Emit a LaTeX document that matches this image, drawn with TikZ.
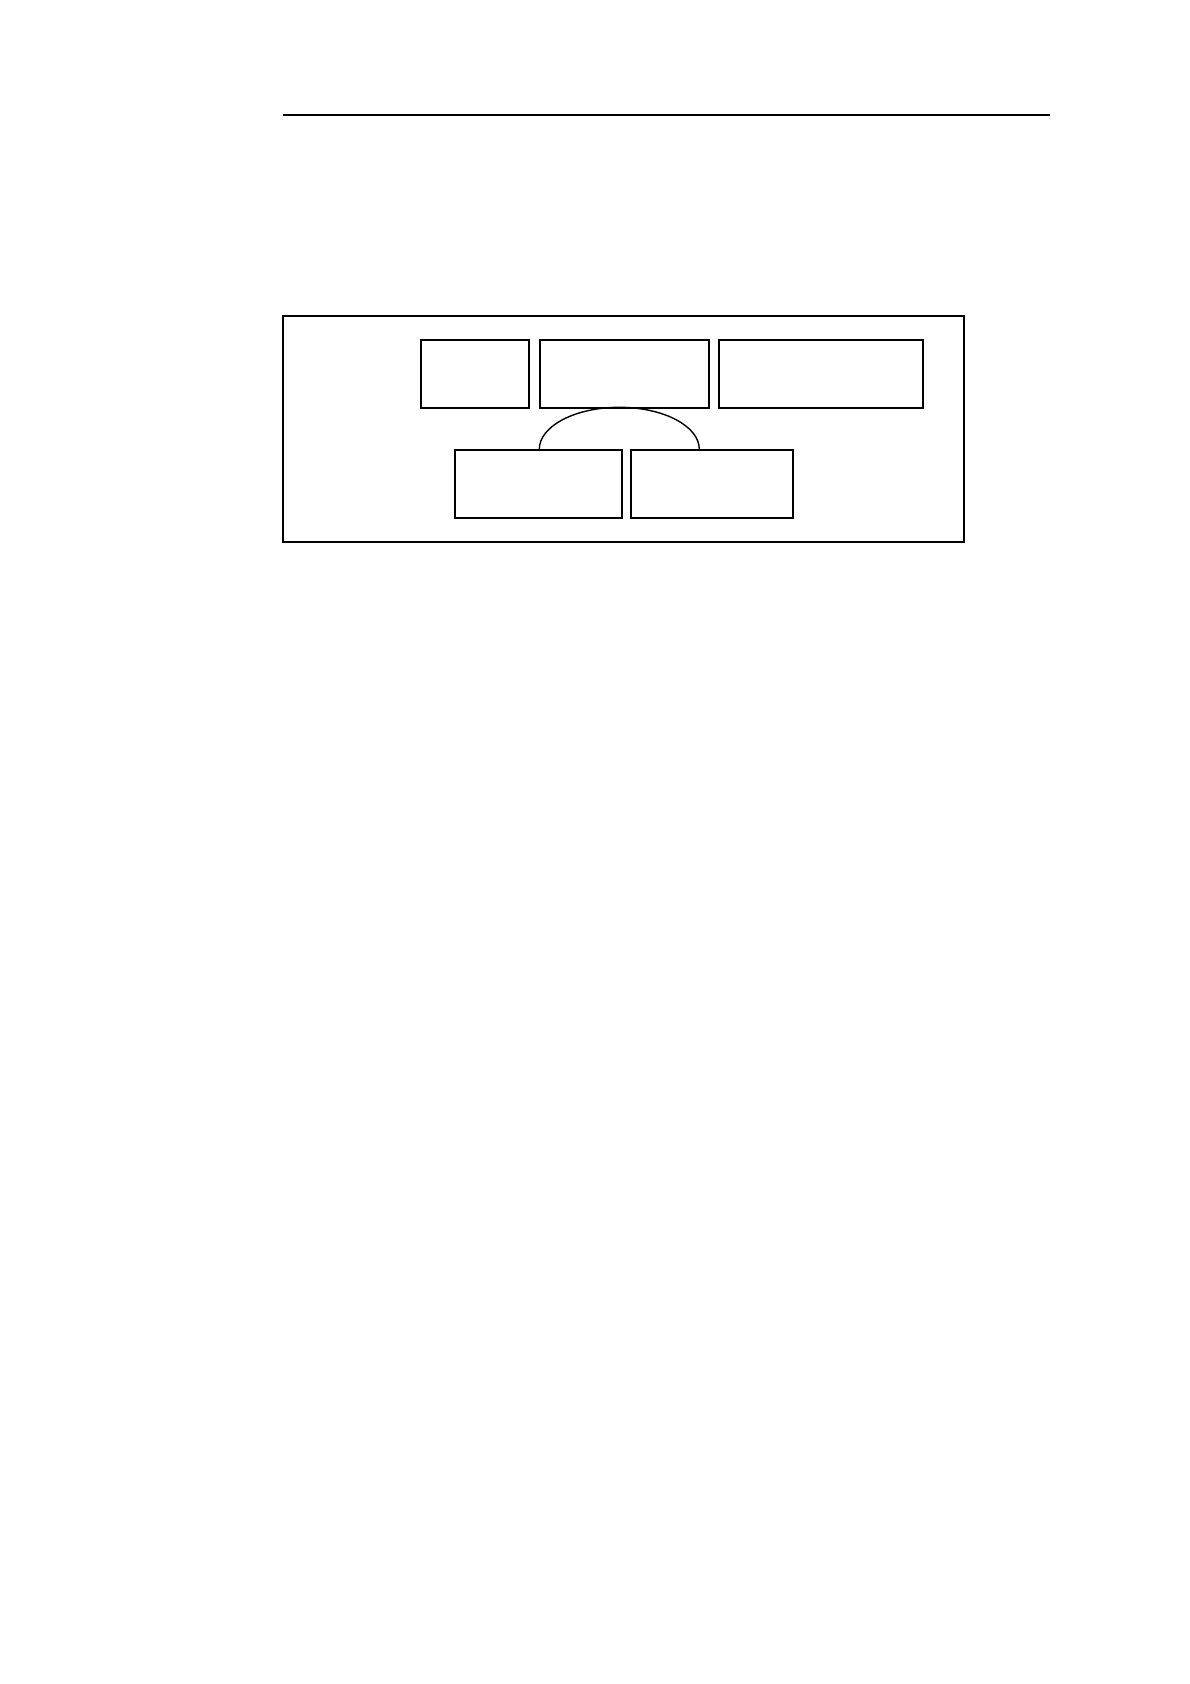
\documentclass[tikz,border=0pt]{standalone}
\usepackage{tikz}
\usetikzlibrary{positioning}

\begin{document}
\begin{tikzpicture}[x=1pt,y=-1pt,line width=1.4pt,
    box/.style={shape=rectangle,draw=black,inner sep=0pt,minimum height=68pt}]
    \useasboundingbox (0,0) rectangle (1190,1684);
    % rule at the top
    \coordinate (R1) at (283,115);
    \coordinate (R2) at (1050,115);
    \draw[line width=1.2pt] (R1) -- (R2);
    % frame
    \node[shape=rectangle,draw=black,inner sep=0pt,minimum width=681pt,minimum height=226pt] (F) at (623.5,429) {};
    \node[box,minimum width=108pt] (A) at (475,374) {};
    \node[box,minimum width=169pt] (B) at (624.5,374) {};
    \node[box,minimum width=204pt] (C) at (821,374) {};
    \node[box,minimum width=167pt] (D) at (538.5,484) {};
    \node[box,minimum width=162pt] (E) at (712,484) {};
    \foreach \n in {A,B,C,D,E}
        \draw[line width=1.2pt] ([yshift=1.3pt]\n.south west) -- ([yshift=1.3pt]\n.south east);
    \draw (B.south west |- D.north) arc[start angle=180,end angle=0,x radius=80pt,y radius=42pt];
\end{tikzpicture}
\end{document}
